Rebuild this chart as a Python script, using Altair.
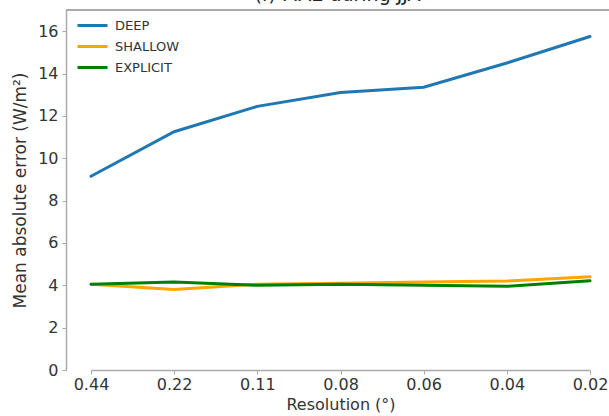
import altair as alt
import pandas as pd

resolutions = ["0.44", "0.22", "0.11", "0.08", "0.06", "0.04", "0.02"]
deep = [9.15, 11.25, 12.45, 13.1, 13.35, 14.5, 15.75]
shallow = [4.05, 3.8, 4.05, 4.1, 4.15, 4.2, 4.4]
explicit = [4.05, 4.15, 4.0, 4.05, 4.0, 3.95, 4.22]
series = ["DEEP", "SHALLOW", "EXPLICIT"]
colors = ["#1f77b4", "#ffa500", "#008000"]
y_ticks = [0, 2, 4, 6, 8, 10, 12, 14, 16]

rows = []
for name, vals in zip(series, [deep, shallow, explicit]):
    for i, (r, v) in enumerate(zip(resolutions, vals)):
        rows.append({"res": r, "mae": v, "model": name, "order": i})
df = pd.DataFrame(rows)

FONT = "DejaVu Sans"
W, H = 543, 360

lines = alt.Chart(df).mark_line(strokeWidth=3, strokeCap="round").encode(
    x=alt.X("res:O", sort=resolutions, title="Resolution (°)",
            scale=alt.Scale(type="point", range=[25, 524], padding=0),
            axis=alt.Axis(labelAngle=0, labelFontSize=16, titleFontSize=16,
                          labelPadding=2, titlePadding=4, tickSize=4)),
    y=alt.Y("mae:Q", title="Mean absolute error (W/m²)",
            scale=alt.Scale(domain=[0, 17], nice=False, zero=True),
            axis=alt.Axis(values=y_ticks, labelFontSize=16, titleFontSize=17,
                          grid=False, tickSize=4, labelPadding=4, titlePadding=8)),
    color=alt.Color("model:N", sort=series,
                    scale=alt.Scale(domain=series, range=colors),
                    legend=alt.Legend(title=None, orient="none", legendX=10, legendY=9,
                                      symbolType="M-3,0H3", symbolSize=100,
                                      symbolStrokeWidth=3, labelFontSize=13,
                                      labelColor="#333", rowPadding=7,
                                      labelOffset=16, symbolOffset=10)),
    detail="model:N",
    order="order:Q",
)

top_rule = alt.Chart(df).mark_rule(color="#aaa", strokeWidth=1.5).encode(
    x=alt.value(0), x2=alt.value(W), y=alt.value(0)
)

chart = alt.layer(lines, top_rule).properties(
    width=W, height=H,
    title=alt.TitleParams("(f) MAE during JJA", fontSize=19, font=FONT,
                          fontWeight="normal", anchor="middle", offset=-11,
                          baseline="alphabetic", color="#222"),
    padding={"left": 66, "top": 10, "right": 0, "bottom": 46},
    autosize=alt.AutoSizeParams(type="none"),
).configure_view(stroke=None).configure_axis(
    labelFont=FONT, titleFont=FONT, labelColor="#333", titleColor="#333",
    domainColor="#aaa", tickColor="#aaa", domainWidth=1.5, tickWidth=1,
    titleFontWeight="normal",
).configure_legend(labelFont=FONT)

chart.save("out.html", embed_options={"renderer": "svg", "actions": False})
